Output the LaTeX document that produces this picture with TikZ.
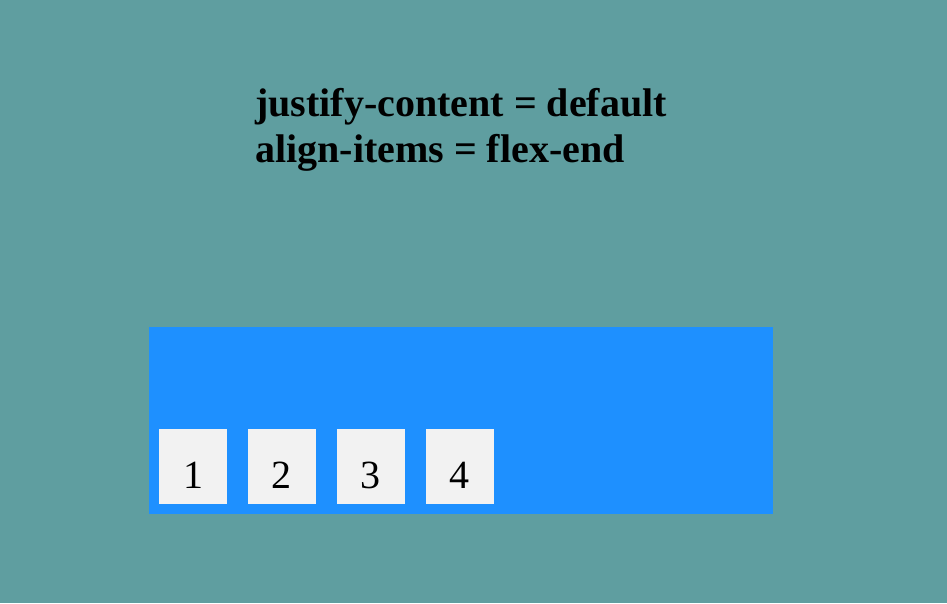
\documentclass[tikz,border=0pt]{standalone}
\usepackage{fontspec}
\setmainfont{Liberation Serif}
\definecolor{cadet}{RGB}{95,158,160}
\definecolor{dodger}{RGB}{30,144,255}
\definecolor{smoke}{RGB}{242,242,242}
\begin{document}
\begin{tikzpicture}[x=1pt,y=-1pt,item/.style={fill=smoke,minimum width=68pt,minimum height=75pt,inner sep=0pt},num/.style={anchor=base,inner sep=0pt,font=\fontsize{40}{40}\selectfont},title/.style={anchor=base west,inner sep=0pt,font=\fontsize{40}{40}\selectfont\bfseries}]
\fill[cadet] (0,0) rectangle (947,603);
\useasboundingbox (0,0) rectangle (947,603);
\node[title] (t1) at (255,116) {justify-content = default};
\node[title] (t2) at (255,162) {align-items = flex-end};
\node[fill=dodger,minimum width=624pt,minimum height=187pt,inner sep=0pt] (box) at (461,420) {};
\node[item] (b1) at (193,466.5) {};
\node[item] (b2) at (281.5,466.5) {};
\node[item] (b3) at (370.5,466.5) {};
\node[item] (b4) at (459.5,466.5) {};
\node[num] (n1) at (193,488) {1};
\node[num] (n2) at (281.5,488) {2};
\node[num] (n3) at (370.5,488) {3};
\node[num] (n4) at (459.5,488) {4};
\end{tikzpicture}
\end{document}
